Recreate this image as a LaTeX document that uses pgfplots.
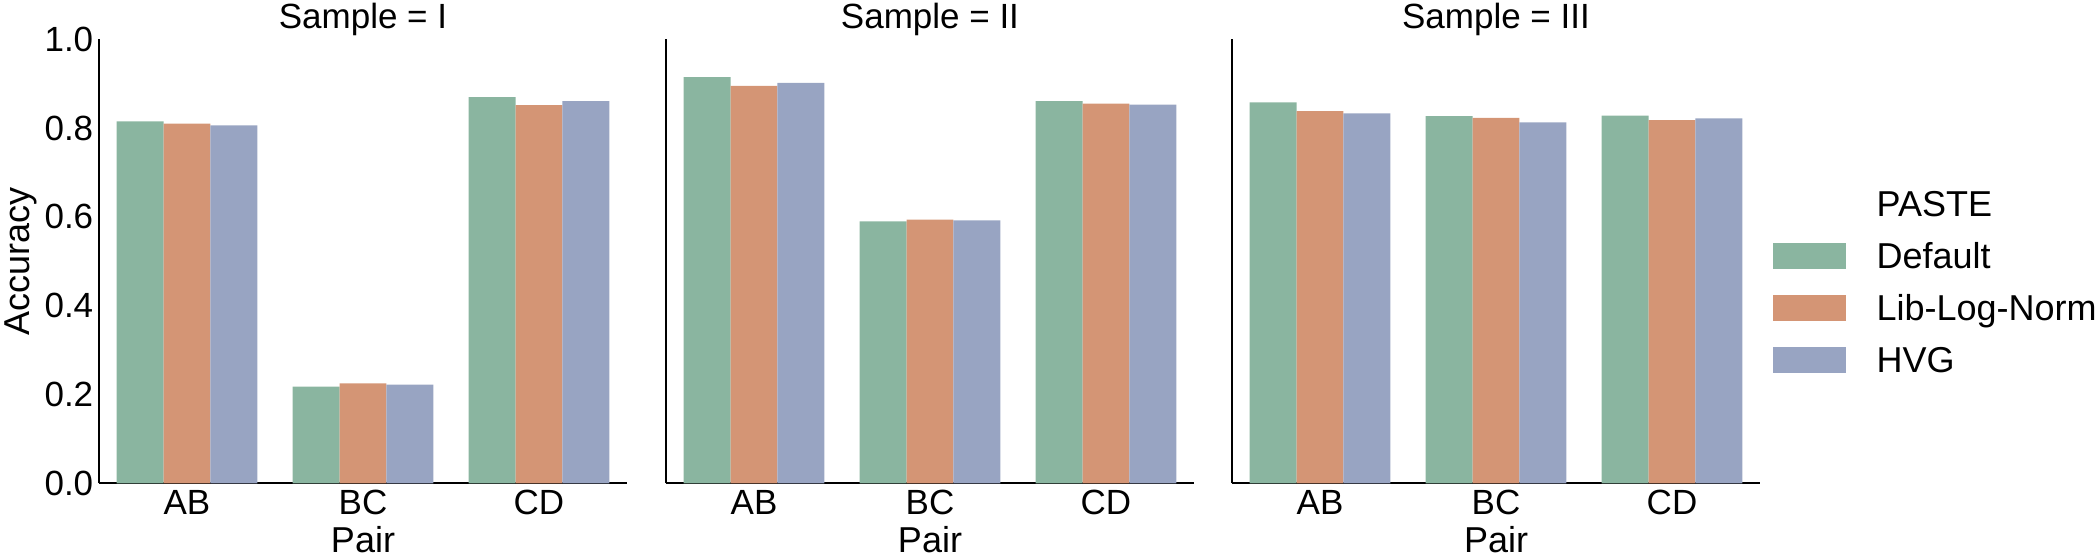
\documentclass[border=0pt]{standalone}
\usepackage{fontspec}
\setmainfont{Liberation Sans}
\usepackage{pgfplots}
\pgfplotsset{compat=1.18}

\definecolor{cDef}{RGB}{138,181,160}
\definecolor{cLib}{RGB}{212,149,117}
\definecolor{cHvg}{RGB}{152,164,194}

% accuracy per pair, one table per sample
\pgfplotstableread{
x def lib hvg
0 0.815 0.810 0.806
1 0.218 0.225 0.222
2 0.870 0.852 0.861
}\sampleI
\pgfplotstableread{
x def lib hvg
0 0.915 0.895 0.902
1 0.590 0.594 0.592
2 0.861 0.855 0.853
}\sampleII
\pgfplotstableread{
x def lib hvg
0 0.858 0.838 0.833
1 0.827 0.823 0.813
2 0.828 0.818 0.822
}\sampleIII

\pgfplotsset{
  facet/.style={
    width=264pt, height=222pt, scale only axis,
    ymin=0, ymax=1.0, xmin=-0.5, xmax=2.5,
    axis x line*=bottom, axis y line*=left,
    axis line style={-, line width=1pt},
    xtick={0,1,2}, xticklabels={AB,BC,CD},
    major tick length=0pt,
    /pgf/number format/assume math mode=true,
    tick label style={font=\fontsize{17.5}{20}\selectfont, inner sep=0pt},
    xticklabel style={anchor=north, yshift=-3.3pt},
    yticklabel style={anchor=east, xshift=-2.7pt,
      /pgf/number format/.cd, fixed, fixed zerofill, precision=1},
    ybar, bar width=0.2667,
    xlabel={Pair},
    xlabel style={at={(axis description cs:0.5,-0.155)}, anchor=base,
      inner sep=0pt, font=\fontsize{18}{21}\selectfont},
    every axis title shift=0pt,
    title style={at={(axis description cs:0.5,1.0241)}, anchor=base,
      inner sep=0pt, font=\fontsize{17.5}{20}\selectfont},
  },
  pdef/.style={fill=cDef, draw=none, bar shift=-0.2667},
  plib/.style={fill=cLib, draw=none, bar shift=0},
  phvg/.style={fill=cHvg, draw=none, bar shift=0.2667},
}

\begin{document}
\begin{tikzpicture}
\begin{axis}[facet, name=a1, at={(0pt,0pt)}, anchor=south west,
    title={Sample = I},
    ytick={0,0.2,0.4,0.6,0.8,1.0},
    ylabel={Accuracy},
    ylabel style={at={(axis description cs:-0.179,0.5)}, anchor=north,
      inner sep=0pt, font=\fontsize{18}{21}\selectfont}]
  \addplot[pdef] table[x=x, y=def] {\sampleI};
  \addplot[plib] table[x=x, y=lib] {\sampleI};
  \addplot[phvg] table[x=x, y=hvg] {\sampleI};
\end{axis}

\begin{axis}[facet, at={(283.5pt,0pt)}, anchor=south west,
    title={Sample = II}, ytick=\empty]
  \addplot[pdef] table[x=x, y=def] {\sampleII};
  \addplot[plib] table[x=x, y=lib] {\sampleII};
  \addplot[phvg] table[x=x, y=hvg] {\sampleII};
\end{axis}

\begin{axis}[facet, at={(566.5pt,0pt)}, anchor=south west,
    title={Sample = III}, ytick=\empty,
    legend cell align=left,
    legend image code/.code={\fill[#1] (0pt,-6.5pt) rectangle (36.5pt,6.5pt);},
    legend style={at={(axis description cs:1.024,0.6586)}, anchor=north west,
      draw=none, fill=none, inner sep=0pt, outer sep=0pt,
      row sep=13pt, column sep=15.5pt,
      font=\fontsize{18}{21}\selectfont,
      nodes={inner sep=0pt, text height=12.9pt, text depth=0pt}}]
  \addlegendimage{empty legend}
  \addlegendentry{PASTE}
  \addplot[pdef] table[x=x, y=def] {\sampleIII};
  \addlegendentry{Default}
  \addplot[plib] table[x=x, y=lib] {\sampleIII};
  \addlegendentry{Lib-Log-Norm}
  \addplot[phvg] table[x=x, y=hvg] {\sampleIII};
  \addlegendentry{HVG}
\end{axis}

\pgfresetboundingbox
\path (-49.5pt,-36.85pt) rectangle (1000.5pt,241.65pt);
\end{tikzpicture}
\end{document}
